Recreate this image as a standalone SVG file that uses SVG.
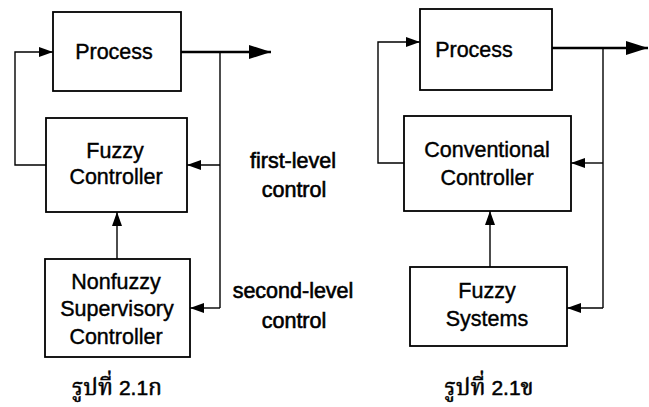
<svg xmlns="http://www.w3.org/2000/svg" width="649" height="407" viewBox="0 0 649 407">
<defs>
<marker id="ah" viewBox="0 0 14 10" refX="14" refY="5" markerWidth="14" markerHeight="10" markerUnits="userSpaceOnUse" orient="auto">
<path d="M0,0 L14,5 L0,10 Z" fill="#000"/>
</marker>
<marker id="ahBig" viewBox="0 0 22 14" refX="22" refY="7" markerWidth="22" markerHeight="14" markerUnits="userSpaceOnUse" orient="auto">
<path d="M0,0 L22,7 L0,14 Z" fill="#000"/>
</marker>
</defs>
<style>
.box{fill:#fff;stroke:#000;stroke-width:1.8}
.lbl{font-family:"Liberation Sans",Arial,sans-serif;font-size:21.5px;fill:#000;stroke:#000;stroke-width:0.4;text-anchor:middle}
.mid{font-family:"Liberation Sans",Arial,sans-serif;font-size:21.5px;fill:#000;stroke:#000;stroke-width:0.6;text-anchor:middle}
.cap{font-family:"Norasi","Noto Serif Thai","Loma","Noto Sans Thai","Liberation Serif",serif;font-size:23px;fill:#000;stroke:#000;stroke-width:0.5;text-anchor:middle}
.num{font-family:"Liberation Sans",Arial,sans-serif;font-size:21px}
.thin{fill:none;stroke:#000;stroke-width:1.4}
.thick{fill:none;stroke:#000;stroke-width:2.6}
</style>
<rect width="649" height="407" fill="#fff"/>
<g id="connectors">
<line class="thick" x1="181" y1="52" x2="271" y2="52" marker-end="url(#ahBig)"/>
<line class="thin" x1="220" y1="52" x2="220" y2="308"/>
<line class="thin" x1="220" y1="165" x2="187" y2="165" marker-end="url(#ah)"/>
<line class="thin" x1="220" y1="308" x2="190" y2="308" marker-end="url(#ah)"/>
<polyline class="thin" points="46,165 15,165 15,52 53,52" marker-end="url(#ah)"/>
<line class="thin" x1="117" y1="259" x2="117" y2="212" marker-end="url(#ah)"/>
<line class="thick" x1="552" y1="48" x2="648" y2="48" marker-end="url(#ahBig)"/>
<line class="thin" x1="603" y1="48" x2="603" y2="308"/>
<line class="thin" x1="603" y1="163" x2="571" y2="163" marker-end="url(#ah)"/>
<line class="thin" x1="603" y1="308" x2="567" y2="308" marker-end="url(#ah)"/>
<polyline class="thin" points="404,163 378,163 378,42 420,42" marker-end="url(#ah)"/>
<line class="thin" x1="490" y1="267" x2="490" y2="211" marker-end="url(#ah)"/>
</g>
<g id="process1">
<rect class="box" x="53" y="12" width="128" height="79"/>
<text class="lbl" x="114" y="59">Process</text>
</g>
<g id="fuzzyController">
<rect class="box" x="46" y="118" width="141" height="94"/>
<text class="lbl" x="115" y="158">Fuzzy</text>
<text class="lbl" x="116" y="184">Controller</text>
</g>
<g id="nonfuzzy">
<rect class="box" x="45" y="259" width="145" height="98"/>
<text class="lbl" x="116" y="289">Nonfuzzy</text>
<text class="lbl" x="117" y="316">Supervisory</text>
<text class="lbl" x="116" y="344">Controller</text>
</g>
<g id="labels">
<text class="mid" x="293" y="168">first-level</text>
<text class="mid" x="294" y="197">control</text>
<text class="mid" x="293" y="298">second-level</text>
<text class="mid" x="294" y="328">control</text>
</g>
<g id="process2">
<rect class="box" x="420" y="9" width="132" height="81"/>
<text class="lbl" x="474" y="57">Process</text>
</g>
<g id="conventional">
<rect class="box" x="404" y="116" width="167" height="95"/>
<text class="lbl" x="487" y="157">Conventional</text>
<text class="lbl" x="487" y="185">Controller</text>
</g>
<g id="fuzzySystems">
<rect class="box" x="410" y="267" width="157" height="79"/>
<text class="lbl" x="487" y="298">Fuzzy</text>
<text class="lbl" x="487" y="326">Systems</text>
</g>
<g id="captions">
<text class="cap" x="117" y="395">รูปที่ <tspan class="num">2.1</tspan>ก</text>
<text class="cap" x="489" y="395">รูปที่ <tspan class="num">2.1</tspan>ข</text>
</g>
</svg>
